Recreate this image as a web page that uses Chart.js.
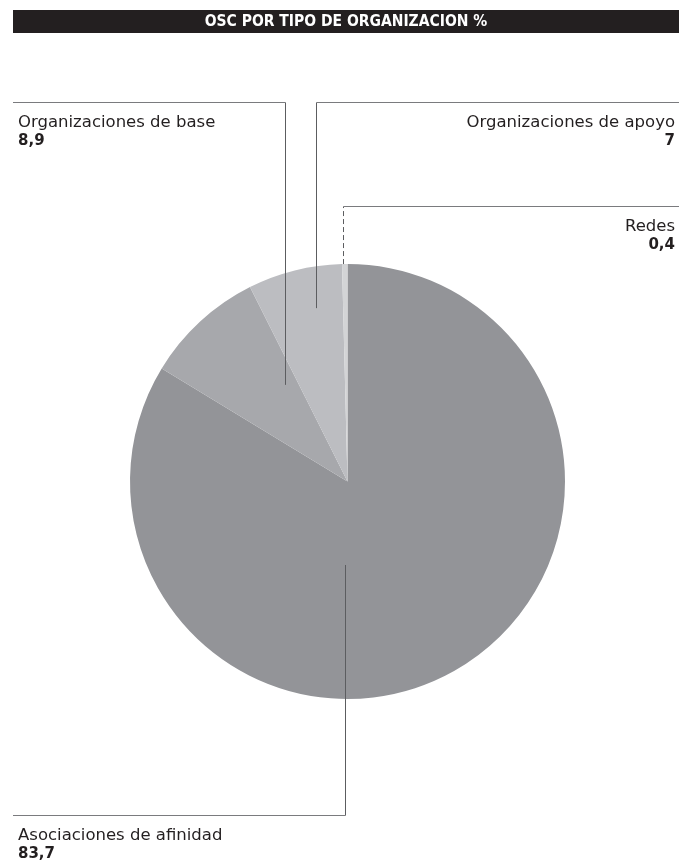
<!DOCTYPE html>
<html>
<head>
<meta charset="utf-8">
<script src="https://cdn.jsdelivr.net/npm/chart.js@4.4.0/dist/chart.umd.min.js"></script>
<style>
  html, body { margin: 0; padding: 0; background: #fff; }
</style>
</head>
<body>
<canvas id="chart" width="679" height="864"></canvas>
<script>
const TITLE = "OSC POR TIPO DE ORGANIZACION %";
const CATEGORIES = ["Asociaciones de afinidad", "Organizaciones de base", "Organizaciones de apoyo", "Redes"];
const VALUES = [83.7, 8.9, 7, 0.4];
const COLORS = ["#939498", "#a7a8ac", "#bcbdc1", "#d3d4d6"];

// leader start inside each slice (fraction across the slice, fraction of radius) and label row
const LEADERS = [
  { t: 0.602, r: 0.384, ruleY: 815, side: "left", dash: false },
  { t: 0.80, r: 0.53, ruleY: 102, side: "left", dash: false },
  { t: 0.65, r: 0.81, ruleY: 102, side: "right", dash: false },
  { t: 0.17, r: 1.0, ruleY: 206, side: "right", dash: true },
];

const fmt = (v) => String(v).replace(".", ",");

const leaders = {
  id: "leaders",
  afterDraw(chart) {
    const ctx = chart.ctx;
    const W = chart.width;
    ctx.save();

    // title bar
    ctx.fillStyle = "#231f20";
    ctx.fillRect(13, 10, W - 13, 23);
    ctx.fillStyle = "#fff";
    ctx.font = "bold 15.5px 'Liberation Sans Narrow', 'DejaVu Sans Condensed', sans-serif";
    ctx.textAlign = "center";
    ctx.textBaseline = "middle";
    ctx.fillText(TITLE, (13 + W) / 2, 22);

    const arcs = chart.getDatasetMeta(0).data;
    arcs.forEach((arc, i) => {
      const L = LEADERS[i];
      const { x, y, startAngle, endAngle, outerRadius } = arc.getProps(["x", "y", "startAngle", "endAngle", "outerRadius"], true);
      const a = startAngle + (endAngle - startAngle) * L.t;
      const px = Math.round(x + Math.cos(a) * outerRadius * L.r) + 0.5;
      const py = y + Math.sin(a) * outerRadius * L.r;
      const ry = L.ruleY + 0.5;

      ctx.strokeStyle = "#5c5d60";
      ctx.lineWidth = 1;
      ctx.setLineDash(L.dash ? [5, 3] : []);
      ctx.beginPath();
      ctx.moveTo(px, py);
      ctx.lineTo(px, ry);
      ctx.stroke();
      ctx.setLineDash([]);
      ctx.strokeStyle = "#7a7b7e";
      ctx.beginPath();
      ctx.moveTo(px, ry);
      ctx.lineTo(L.side === "left" ? 13 : W, ry);
      ctx.stroke();

      const tx = L.side === "left" ? 18 : W - 4;
      ctx.textAlign = L.side;
      ctx.textBaseline = "alphabetic";
      ctx.fillStyle = "#231f20";
      ctx.font = "16.5px 'DejaVu Sans', sans-serif";
      ctx.fillText(CATEGORIES[i], tx, L.ruleY + 25);
      ctx.font = "bold 15px 'DejaVu Sans', sans-serif";
      ctx.fillText(fmt(VALUES[i]), tx, L.ruleY + 43);
    });
    ctx.restore();
  },
};

new Chart(document.getElementById("chart"), {
  type: "pie",
  data: {
    labels: CATEGORIES,
    datasets: [{
      data: VALUES,
      backgroundColor: COLORS,
      borderWidth: 0,
    }],
  },
  options: {
    responsive: false,
    animation: false,
    layout: { padding: { left: 130, right: 114, top: 264, bottom: 165 } },
    plugins: {
      legend: { display: false },
      tooltip: { enabled: false },
    },
  },
  plugins: [leaders],
});
</script>
</body>
</html>
